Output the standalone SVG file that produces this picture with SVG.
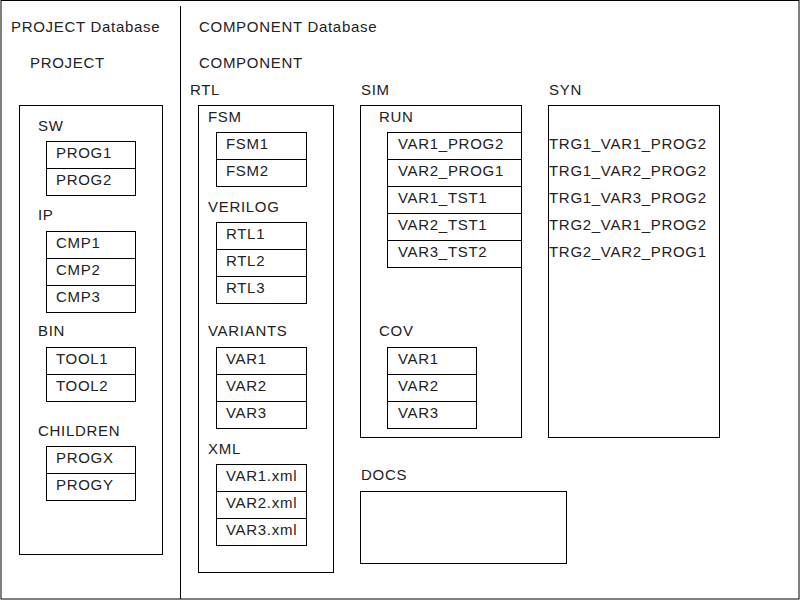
<svg xmlns="http://www.w3.org/2000/svg" width="800" height="600" viewBox="0 0 800 600">
<style>
.box{fill:none;stroke:#000;stroke-width:1}
.ln{stroke:#000;stroke-width:1}
.t{font-family:"Liberation Sans",Arial,sans-serif;font-size:15px;letter-spacing:0.7px;fill:#222}
</style>
<rect x="0" y="0" width="800" height="600" fill="#fff"/>
<g id="frame">
<rect class="box" x="1" y="0.5" width="798" height="598.5"/>
<line class="ln" x1="180.5" y1="6" x2="180.5" y2="599"/>
<text class="t" x="11" y="31.5">PROJECT Database</text>
<text class="t" x="30" y="67.5">PROJECT</text>
<text class="t" x="199" y="31.5">COMPONENT Database</text>
<text class="t" x="199" y="67.5">COMPONENT</text>
</g>
<g id="project">
<rect class="box" x="19.5" y="105.5" width="143" height="449"/>
<g id="sw">
<text class="t" x="38" y="131">SW</text>
<rect class="box" x="46.5" y="141.5" width="89" height="54"/>
<line class="ln" x1="46.5" y1="168.5" x2="135.5" y2="168.5"/>
<text class="t" x="56" y="158">PROG1</text>
<text class="t" x="56" y="185">PROG2</text>
</g>
<g id="ip">
<text class="t" x="38" y="220">IP</text>
<rect class="box" x="46.5" y="231.5" width="89" height="81"/>
<line class="ln" x1="46.5" y1="258.5" x2="135.5" y2="258.5"/>
<line class="ln" x1="46.5" y1="285.5" x2="135.5" y2="285.5"/>
<text class="t" x="56" y="248">CMP1</text>
<text class="t" x="56" y="275">CMP2</text>
<text class="t" x="56" y="302">CMP3</text>
</g>
<g id="bin">
<text class="t" x="38" y="336">BIN</text>
<rect class="box" x="46.5" y="347.5" width="89" height="54"/>
<line class="ln" x1="46.5" y1="374.5" x2="135.5" y2="374.5"/>
<text class="t" x="56" y="364">TOOL1</text>
<text class="t" x="56" y="391">TOOL2</text>
</g>
<g id="children">
<text class="t" x="38" y="436">CHILDREN</text>
<rect class="box" x="46.5" y="446.5" width="89" height="54"/>
<line class="ln" x1="46.5" y1="473.5" x2="135.5" y2="473.5"/>
<text class="t" x="56" y="463">PROGX</text>
<text class="t" x="56" y="490">PROGY</text>
</g>
</g>
<g id="rtl">
<text class="t" x="190" y="95">RTL</text>
<rect class="box" x="198.5" y="105.5" width="135" height="467"/>
<g id="fsm">
<text class="t" x="208" y="122">FSM</text>
<rect class="box" x="216.5" y="132.5" width="90" height="54"/>
<line class="ln" x1="216.5" y1="159.5" x2="306.5" y2="159.5"/>
<text class="t" x="226" y="149">FSM1</text>
<text class="t" x="226" y="176">FSM2</text>
</g>
<g id="verilog">
<text class="t" x="208" y="212">VERILOG</text>
<rect class="box" x="216.5" y="222.5" width="90" height="81"/>
<line class="ln" x1="216.5" y1="249.5" x2="306.5" y2="249.5"/>
<line class="ln" x1="216.5" y1="276.5" x2="306.5" y2="276.5"/>
<text class="t" x="226" y="239">RTL1</text>
<text class="t" x="226" y="266">RTL2</text>
<text class="t" x="226" y="293">RTL3</text>
</g>
<g id="variants">
<text class="t" x="208" y="336">VARIANTS</text>
<rect class="box" x="216.5" y="347.5" width="90" height="81"/>
<line class="ln" x1="216.5" y1="374.5" x2="306.5" y2="374.5"/>
<line class="ln" x1="216.5" y1="401.5" x2="306.5" y2="401.5"/>
<text class="t" x="226" y="364">VAR1</text>
<text class="t" x="226" y="391">VAR2</text>
<text class="t" x="226" y="418">VAR3</text>
</g>
<g id="xml">
<text class="t" x="208" y="454">XML</text>
<rect class="box" x="216.5" y="464.5" width="90" height="81"/>
<line class="ln" x1="216.5" y1="491.5" x2="306.5" y2="491.5"/>
<line class="ln" x1="216.5" y1="518.5" x2="306.5" y2="518.5"/>
<text class="t" x="226" y="481">VAR1.xml</text>
<text class="t" x="226" y="508">VAR2.xml</text>
<text class="t" x="226" y="535">VAR3.xml</text>
</g>
</g>
<g id="sim">
<text class="t" x="361" y="95">SIM</text>
<rect class="box" x="360.5" y="105.5" width="161" height="332"/>
<g id="run">
<text class="t" x="379" y="122">RUN</text>
<rect class="box" x="387.5" y="132.5" width="134" height="135"/>
<line class="ln" x1="387.5" y1="159.5" x2="521.5" y2="159.5"/>
<line class="ln" x1="387.5" y1="186.5" x2="521.5" y2="186.5"/>
<line class="ln" x1="387.5" y1="213.5" x2="521.5" y2="213.5"/>
<line class="ln" x1="387.5" y1="240.5" x2="521.5" y2="240.5"/>
<text class="t" x="398" y="149">VAR1_PROG2</text>
<text class="t" x="398" y="176">VAR2_PROG1</text>
<text class="t" x="398" y="203">VAR1_TST1</text>
<text class="t" x="398" y="230">VAR2_TST1</text>
<text class="t" x="398" y="257">VAR3_TST2</text>
</g>
<g id="cov">
<text class="t" x="379" y="336">COV</text>
<rect class="box" x="387.5" y="347.5" width="89" height="81"/>
<line class="ln" x1="387.5" y1="374.5" x2="476.5" y2="374.5"/>
<line class="ln" x1="387.5" y1="401.5" x2="476.5" y2="401.5"/>
<text class="t" x="398" y="364">VAR1</text>
<text class="t" x="398" y="391">VAR2</text>
<text class="t" x="398" y="418">VAR3</text>
</g>
</g>
<g id="docs">
<text class="t" x="361" y="480">DOCS</text>
<rect class="box" x="360.5" y="491.5" width="206" height="72"/>
</g>
<g id="syn">
<text class="t" x="549" y="95">SYN</text>
<rect class="box" x="548.5" y="105.5" width="171" height="332"/>
<text class="t" x="549" y="149">TRG1_VAR1_PROG2</text>
<text class="t" x="549" y="176">TRG1_VAR2_PROG2</text>
<text class="t" x="549" y="203">TRG1_VAR3_PROG2</text>
<text class="t" x="549" y="230">TRG2_VAR1_PROG2</text>
<text class="t" x="549" y="257">TRG2_VAR2_PROG1</text>
</g>
<g id="connectors"/>
</svg>
